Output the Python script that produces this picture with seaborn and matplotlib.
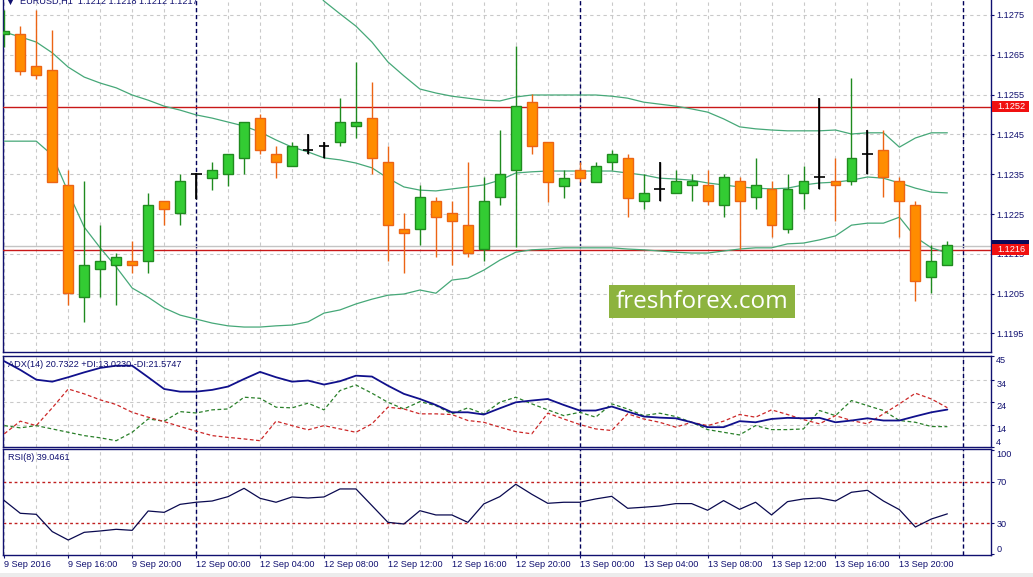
import numpy as np
import pandas as pd
import matplotlib
matplotlib.use("Agg")
import matplotlib.pyplot as plt
import seaborn as sns
from matplotlib.patches import Rectangle

# ---------------- data (EURUSD H1, 9-13 Sep 2016) ----------------
opens = [1.12702, 1.12702, 1.12622, 1.12612, 1.12322, 1.12041, 1.12111, 1.12121, 1.12131, 1.12131,
         1.12282, 1.12252, 1.12350, 1.12341, 1.12350, 1.12390, 1.12490, 1.12400, 1.12370, 1.12410,
         1.12420, 1.12430, 1.12470, 1.12490, 1.12380, 1.12212, 1.12212, 1.12282, 1.12252, 1.12222,
         1.12161, 1.12292, 1.12360, 1.12531, 1.12430, 1.12321, 1.12360, 1.12331, 1.12380, 1.12390,
         1.12282, 1.12312, 1.12302, 1.12322, 1.12322, 1.12272, 1.12332, 1.12292, 1.12312, 1.12212,
         1.12302, 1.12342, 1.12332, 1.12332, 1.12400, 1.12410, 1.12332, 1.12272, 1.12091, 1.12121]
highs = [1.12763, 1.12722, 1.12763, 1.12712, 1.12361, 1.12332, 1.12222, 1.12151, 1.12183, 1.12302,
         1.12283, 1.12350, 1.12352, 1.12380, 1.12400, 1.12480, 1.12501, 1.12420, 1.12430, 1.12450,
         1.12430, 1.12541, 1.12631, 1.12581, 1.12420, 1.12252, 1.12322, 1.12292, 1.12282, 1.12380,
         1.12342, 1.12460, 1.12671, 1.12551, 1.12430, 1.12360, 1.12380, 1.12380, 1.12410, 1.12400,
         1.12350, 1.12380, 1.12360, 1.12350, 1.12360, 1.12350, 1.12342, 1.12390, 1.12332, 1.12350,
         1.12370, 1.12541, 1.12390, 1.12591, 1.12460, 1.12460, 1.12342, 1.12282, 1.12171, 1.12181]
lows = [1.12670, 1.12600, 1.12590, 1.12330, 1.12021, 1.11979, 1.12041, 1.12021, 1.12101, 1.12101,
        1.12222, 1.12222, 1.12287, 1.12311, 1.12321, 1.12350, 1.12400, 1.12341, 1.12370, 1.12400,
        1.12390, 1.12420, 1.12440, 1.12350, 1.12131, 1.12101, 1.12171, 1.12141, 1.12121, 1.12141,
        1.12131, 1.12272, 1.12168, 1.12400, 1.12281, 1.12291, 1.12331, 1.12331, 1.12360, 1.12242,
        1.12262, 1.12282, 1.12302, 1.12282, 1.12272, 1.12242, 1.12161, 1.12262, 1.12191, 1.12202,
        1.12262, 1.12312, 1.12232, 1.12322, 1.12350, 1.12292, 1.12191, 1.12031, 1.12051, 1.12121]
closes = [1.12711, 1.12610, 1.12600, 1.12331, 1.12051, 1.12121, 1.12131, 1.12141, 1.12121, 1.12272,
          1.12262, 1.12332, 1.12350, 1.12360, 1.12400, 1.12480, 1.12410, 1.12380, 1.12420, 1.12410,
          1.12420, 1.12480, 1.12480, 1.12390, 1.12222, 1.12202, 1.12292, 1.12242, 1.12232, 1.12151,
          1.12282, 1.12350, 1.12521, 1.12420, 1.12331, 1.12341, 1.12341, 1.12370, 1.12400, 1.12291,
          1.12302, 1.12312, 1.12332, 1.12332, 1.12282, 1.12342, 1.12282, 1.12322, 1.12222, 1.12312,
          1.12332, 1.12342, 1.12322, 1.12390, 1.12400, 1.12342, 1.12282, 1.12081, 1.12131, 1.12171]

bb_upper = [1.12981, 1.12956, 1.12931, 1.12911, 1.12933, 1.12971, 1.12994, 1.13016, 1.13034, 1.13031,
            1.13029, 1.13026, 1.13011, 1.13006, 1.12994, 1.12976, 1.12946, 1.12903, 1.12866, 1.12833,
            1.12785, 1.12753, 1.12722, 1.12682, 1.12632, 1.12597, 1.12564, 1.12554, 1.12546, 1.12541,
            1.12536, 1.12534, 1.12544, 1.12549, 1.12549, 1.12549, 1.12549, 1.12549, 1.12546, 1.12541,
            1.12531, 1.12526, 1.12521, 1.12514, 1.12506, 1.12489, 1.12469, 1.12464, 1.12461, 1.12459,
            1.12459, 1.12459, 1.12461, 1.12451, 1.12454, 1.12454, 1.12418, 1.12441, 1.12454, 1.12454]
bb_middle = [1.12707, 1.12695, 1.12682, 1.12655, 1.12619, 1.12594, 1.12579, 1.12567, 1.12549, 1.12536,
             1.12521, 1.12511, 1.12499, 1.12491, 1.12481, 1.12471, 1.12456, 1.12436, 1.12418, 1.12406,
             1.12391, 1.12386, 1.12378, 1.12366, 1.12340, 1.12318, 1.12310, 1.12308, 1.12313, 1.12318,
             1.12323, 1.12335, 1.12353, 1.12356, 1.12358, 1.12358, 1.12358, 1.12358, 1.12358, 1.12353,
             1.12348, 1.12340, 1.12338, 1.12335, 1.12328, 1.12323, 1.12318, 1.12315, 1.12313, 1.12315,
             1.12323, 1.12328, 1.12330, 1.12335, 1.12343, 1.12340, 1.12328, 1.12315, 1.12305, 1.12303]
bb_lower = [1.12433, 1.12433, 1.12433, 1.12398, 1.12305, 1.12217, 1.12165, 1.12117, 1.12064, 1.12041,
            1.12014, 1.11996, 1.11986, 1.11976, 1.11969, 1.11966, 1.11966, 1.11969, 1.11971, 1.11979,
            1.12001, 1.12009, 1.12024, 1.12036, 1.12046, 1.12049, 1.12059, 1.12051, 1.12084, 1.12089,
            1.12109, 1.12134, 1.12154, 1.12160, 1.12162, 1.12165, 1.12165, 1.12165, 1.12165, 1.12162,
            1.12160, 1.12157, 1.12154, 1.12152, 1.12152, 1.12157, 1.12162, 1.12165, 1.12165, 1.12175,
            1.12177, 1.12185, 1.12195, 1.12222, 1.12227, 1.12227, 1.12242, 1.12192, 1.12165, 1.12152]

adx = [42.5, 38.6, 34.2, 33.3, 35.3, 37.5, 39.5, 40.5, 40.5, 35.3,
       30.0, 28.8, 28.8, 29.6, 31.1, 34.5, 37.7, 35.3, 33.3, 33.8,
       32.0, 33.5, 36.0, 35.6, 31.5, 27.8, 25.5, 22.8, 19.5, 19.5,
       18.5, 21.3, 24.0, 24.8, 25.5, 22.8, 20.3, 20.3, 22.1, 19.8,
       17.6, 17.1, 16.8, 15.0, 12.8, 12.8, 15.5, 15.0, 16.5, 17.0,
       16.8, 17.0, 15.0, 15.8, 16.8, 15.8, 15.8, 17.7, 19.5, 20.73]
plus_di = [13.5, 12.5, 13.5, 12.0, 10.5, 9.0, 8.0, 6.7, 10.5, 16.5,
           15.5, 19.8, 19.2, 20.6, 21.0, 26.3, 25.8, 21.8, 21.5, 23.6,
           20.6, 29.3, 31.8, 28.1, 24.0, 21.0, 24.3, 22.5, 18.8, 21.5,
           18.8, 24.0, 26.3, 23.3, 20.6, 18.0, 19.5, 17.3, 23.3, 21.0,
           18.0, 19.1, 17.6, 15.0, 11.7, 10.5, 9.3, 13.5, 11.7, 11.7,
           12.0, 20.3, 18.0, 24.8, 22.5, 20.3, 15.8, 15.0, 13.1, 13.02]
minus_di = [9.8, 15.5, 13.5, 21.5, 30.0, 27.8, 25.1, 23.0, 19.5, 17.3,
            15.3, 13.1, 11.0, 9.0, 8.2, 7.5, 6.7, 15.5, 13.5, 11.6,
            13.5, 12.0, 10.5, 14.3, 21.8, 21.0, 18.8, 18.8, 18.5, 15.8,
            15.0, 12.8, 10.8, 9.8, 19.1, 16.5, 14.0, 12.0, 11.3, 18.8,
            16.5, 15.0, 12.8, 15.0, 13.5, 15.5, 18.5, 17.3, 20.6, 18.5,
            16.2, 14.3, 18.0, 15.8, 14.3, 18.8, 23.3, 28.1, 25.5, 21.57]
rsi = [51.8, 39.6, 38.6, 22.0, 13.9, 21.3, 22.6, 24.2, 23.2, 41.8,
       40.5, 48.2, 50.2, 51.4, 55.6, 63.6, 54.0, 50.2, 55.3, 54.3,
       55.3, 63.0, 63.0, 47.0, 30.9, 29.3, 42.1, 38.0, 38.0, 30.9,
       48.6, 55.6, 67.5, 57.9, 49.2, 50.2, 50.2, 53.4, 55.9, 44.4,
       45.4, 46.6, 48.9, 48.9, 42.5, 51.8, 43.4, 50.2, 38.0, 50.8,
       53.4, 54.3, 51.4, 59.8, 61.7, 51.4, 43.1, 26.4, 34.1, 39.05]

time_labels = ["9 Sep 2016", "9 Sep 16:00", "9 Sep 20:00", "12 Sep 00:00", "12 Sep 04:00",
               "12 Sep 08:00", "12 Sep 12:00", "12 Sep 16:00", "12 Sep 20:00", "13 Sep 00:00",
               "13 Sep 04:00", "13 Sep 08:00", "13 Sep 12:00", "13 Sep 16:00", "13 Sep 20:00"]
label_bars = [0, 4, 8, 12, 16, 20, 24, 28, 32, 36, 40, 44, 48, 52, 56]
day_breaks = [12, 36, 60]
price_ticks = [1.1195, 1.1205, 1.1215, 1.1225, 1.1235, 1.1245, 1.1255, 1.1265, 1.1275]
level_lines = [1.1252, 1.1216]
bid_price = 1.1217
adx_ticks = [45, 34, 24, 14, 4]
rsi_ticks = [100, 70, 30, 0]
rsi_levels = [70, 30]

# ---------------- styling ----------------
sns.set_style("white")
plt.rcParams["font.family"] = ["Liberation Sans", "DejaVu Sans"]
NAVY = "#101070"
GRID = "#c9c9c9"
BBC = "#46a878"
FS = 6.6

W, H = 1033, 577
fig = plt.figure(figsize=(W / 100, H / 100), dpi=100)
fig.patch.set_facecolor("white")
L, R = 3.3, 991.0


def add_panel(top, bottom):
    return fig.add_axes([L / W, 1 - bottom / H, (R - L) / W, (bottom - top) / H])


ax = add_panel(-2, 352)
ax_adx = add_panel(355.7, 446.7)
ax_rsi = add_panel(449, 555)

n = len(closes)
bars = np.arange(n)
o = np.array(opens); h = np.array(highs); l = np.array(lows); c = np.array(closes)
df = pd.DataFrame({"bar": bars, "upper": bb_upper, "mid": bb_middle, "lower": bb_lower,
                   "adx": adx, "pdi": plus_di, "mdi": minus_di, "rsi": rsi})

xlim = (-0.0625, 61.73)
for a in (ax, ax_adx, ax_rsi):
    a.set_xlim(*xlim)
    a.set_facecolor("white")
    for s in a.spines.values():
        s.set_color(NAVY)
        s.set_linewidth(1.0)
    a.set_xticks(range(0, 62, 2), minor=True)
    a.set_xticks(label_bars)
    a.grid(True, axis="x", which="both", color=GRID, ls=(0, (3, 3)), lw=0.8)
    a.yaxis.tick_right()
    a.tick_params(axis="y", which="major", length=2, pad=1.8, labelsize=FS,
                  labelcolor=NAVY, color=NAVY, direction="out", right=True, left=False)
    a.tick_params(axis="x", which="minor", length=0)
    for b in day_breaks:
        a.axvline(b, color="#00005a", lw=1.0, ls=(0, (3, 2)), zorder=2)
    a.set_axisbelow(True)
ax.spines["top"].set_visible(False)

# ---------------- main price panel ----------------
ax.set_ylim(1.119033, 1.127927)
ax.set_yticks(price_ticks)
ax.set_yticklabels([f"{p:.4f}" for p in price_ticks])
ax.grid(True, axis="y", color=GRID, ls=(0, (3, 3)), lw=0.8)
ax.tick_params(axis="x", which="both", bottom=False, labelbottom=False)

for col in ("upper", "mid", "lower"):
    sns.lineplot(data=df, x="bar", y=col, ax=ax, color=BBC, lw=0.9, legend=False, zorder=3)

ax.axhline(bid_price, color="#c4c4c4", lw=1.0, zorder=2.5)
for lv in level_lines:
    ax.axhline(lv, color="#c81818", lw=1.0, zorder=2.6)

up = c > o
down = c < o
doji = c == o
wick_col = np.where(up, "#1f8a1f", np.where(down, "#ec6414", "black"))
ax.vlines(bars, l, h, colors=wick_col, lw=1.0, zorder=4)
nd = ~doji
ax.bar(bars[nd], np.abs(c - o)[nd], bottom=np.minimum(o, c)[nd], width=0.62,
       color=np.where(up, "#33cc33", "#ff8c00")[nd],
       edgecolor=np.where(up, "#1f8a1f", "#ec6414")[nd], lw=1.0, zorder=5)
ax.hlines(c[doji], bars[doji] - 0.34, bars[doji] + 0.34, colors="black", lw=1.2, zorder=5)
ax.vlines(bars[doji], l[doji], h[doji], colors="black", lw=1.2, zorder=5)
ax.set_xlabel("")
ax.set_ylabel("")

# price labels on the right axis (bid marker box sits behind the red level label)
tr = ax.get_yaxis_transform()
box_w = 37.0 / (R - L)
box_h = 0.000276
ax.add_patch(Rectangle((1.0015, bid_price - box_h / 2), box_w, box_h, transform=tr,
                       facecolor="#0a0a5a", edgecolor="none", clip_on=False, zorder=19))
for lv in level_lines:
    ax.add_patch(Rectangle((1.0015, lv - box_h / 2), box_w, box_h, transform=tr,
                           facecolor="#f01010", edgecolor="none", clip_on=False, zorder=20))
    ax.text(1.0015 + box_w / 2, lv, f"{lv:.4f}", transform=tr, ha="center", va="center",
            fontsize=FS, color="white", clip_on=False, zorder=21)

# ---------------- ADX panel ----------------
sns.lineplot(data=df, x="bar", y="adx", ax=ax_adx, color="#10108c", lw=1.3, legend=False, zorder=4)
sns.lineplot(data=df, x="bar", y="pdi", ax=ax_adx, color="#2a802a", lw=0.9, legend=False,
             ls=(0, (3, 2)), zorder=3)
sns.lineplot(data=df, x="bar", y="mdi", ax=ax_adx, color="#cc2828", lw=0.9, legend=False,
             ls=(0, (3, 2)), zorder=3)
ax_adx.set_ylim(4, 45)
ax_adx.set_yticks(adx_ticks)
ax_adx.set_yticklabels([str(t) for t in adx_ticks])
for t, lab in zip(adx_ticks, ax_adx.get_yticklabels()):
    lab.set_va("bottom" if t == adx_ticks[-1] else "top")
ax_adx.grid(True, axis="y", color=GRID, ls=(0, (3, 3)), lw=0.8)
ax_adx.tick_params(axis="x", which="both", bottom=False, labelbottom=False)
ax_adx.set_xlabel("")
ax_adx.set_ylabel("")

# ---------------- RSI panel ----------------
for lv in rsi_levels:
    ax_rsi.axhline(lv, color="#c02020", lw=1.0, ls=(0, (2, 2)), zorder=2)
sns.lineplot(data=df, x="bar", y="rsi", ax=ax_rsi, color="#0a0a50", lw=0.9, legend=False, zorder=4)
ax_rsi.set_ylim(-0.5, 101.4)
ax_rsi.set_yticks(rsi_ticks)
ax_rsi.set_yticklabels([str(t) for t in rsi_ticks])
for t, lab in zip(rsi_ticks, ax_rsi.get_yticklabels()):
    if t == rsi_ticks[0]:
        lab.set_va("top")
    elif t == rsi_ticks[-1]:
        lab.set_va("bottom")
ax_rsi.grid(False, axis="y")
ax_rsi.set_xticklabels(time_labels)
ax_rsi.tick_params(axis="x", which="major", length=2.2, pad=1.2, labelsize=FS,
                   labelcolor=NAVY, color=NAVY, direction="out", bottom=True)
for lab in ax_rsi.get_xticklabels():
    lab.set_ha("left")
ax_rsi.set_xlabel("")
ax_rsi.set_ylabel("")

# ---------------- texts ----------------
def fx(x):
    return x / W


def fy(y):
    return 1 - y / H


fig.text(fx(6.5), fy(4.3), "\u25bc", fontsize=FS, color=NAVY, va="baseline", ha="left",
         family=["DejaVu Sans"])
fig.text(fx(20), fy(4.3), "EURUSD,H1  1.1212 1.1218 1.1212 1.1217", fontsize=FS,
         color=NAVY, va="baseline", ha="left")
fig.text(fx(8.3), fy(364.7), "ADX(14) 20.7322 +DI:13.0230 -DI:21.5747", fontsize=FS,
         color=NAVY, va="center", ha="left", zorder=30)
fig.text(fx(8.3), fy(457.7), "RSI(8) 39.0461", fontsize=FS, color=NAVY, va="center",
         ha="left", zorder=30)

# watermark
fig.add_artist(Rectangle((fx(609), fy(318.3)), 186 / W, 33.3 / H, transform=fig.transFigure,
                         facecolor="#8db33f", edgecolor="none", zorder=40))
fig.text(fx(702), fy(301.5), "freshforex.com", fontsize=17.5, color="white", ha="center",
         va="center", family=["Open Sans", "DejaVu Sans"], zorder=41)

# bottom strip
fig.add_artist(Rectangle((0, 0), 1, 4 / H, transform=fig.transFigure,
                         facecolor="#ececec", edgecolor="none", zorder=0))

fig.savefig("out.png", dpi=100, facecolor="white")
